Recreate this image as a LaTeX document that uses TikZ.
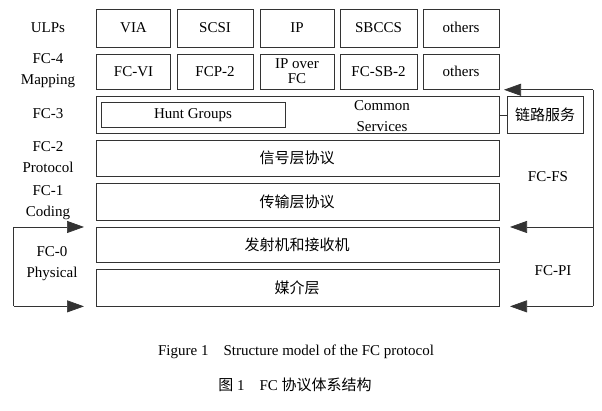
\documentclass[tikz,border=0pt]{standalone}
\usepackage{fontspec}
\setmainfont{Liberation Serif}
\newfontfamily\cjk{Noto Sans CJK SC}
\usetikzlibrary{arrows.meta}
\begin{document}
\begin{tikzpicture}[x=1pt,y=-0.863pt,
  bx/.style={draw=black!80,line width=0.7pt,inner sep=0pt},
  lab/.style={font=\fontsize{15}{16}\selectfont,align=center,inner sep=0pt},
  arr/.style={draw=black!80,line width=0.7pt,-{Triangle[length=17pt,width=12pt]}}]
\useasboundingbox (0,0) rectangle (602,476.2);
% row 1
\foreach \a/\b/\t [count=\i] in {96.5/170.5/VIA,177/253/SCSI,260/334/IP,340/417/SBCCS,423/499/others}{
  \draw[bx] (\a,11) rectangle (\b,55); \node[lab] (u\i) at ({(\a+\b)/2},32) {\t};}
\foreach \a/\b/\t [count=\i] in {96.5/170.5/FC-VI,177/253/FCP-2,260/334/{IP over\\[-1pt]FC},340/417/FC-SB-2,423/499/others}{
  \draw[bx] (\a,62.5) rectangle (\b,104); \node[lab] (m\i) at ({(\a+\b)/2},83) {\t};}
\draw[bx] (96.5,112) rectangle (499,155);
\draw[bx] (101,119) rectangle (285,147);
\node[lab] (hunt) at (193,133) {Hunt Groups};
\node[lab] (cs) at (382,134) {Common\\[5pt]Services};
\draw[bx] (507,112) rectangle (583,155);
\node[lab] (link) at (545,133.5) {\cjk 链路服务};
\draw[draw=black!80,line width=0.7pt] (499,134) -- (507,134);
\draw[bx] (96.5,163) rectangle (499,204); \node[lab] (l2) at (297,183.5) {\cjk 信号层协议};
\draw[bx] (96.5,212) rectangle (499,255); \node[lab] (l1) at (297,233.5) {\cjk 传输层协议};
\draw[bx] (96.5,263) rectangle (499,304); \node[lab] (l0a) at (297,283.5) {\cjk 发射机和接收机};
\draw[bx] (96.5,312) rectangle (499,355); \node[lab] (l0b) at (297,333.5) {\cjk 媒介层};
% left labels
\node[lab] at (48,32) {ULPs};
\node[lab] at (48,82) {FC-4\\[5pt]Mapping};
\node[lab] at (48,132) {FC-3};
\node[lab] at (48,182) {FC-2\\[5pt]Protocol};
\node[lab] at (48,234.5) {FC-1\\[5pt]Coding};
\node[lab] at (52,305.5) {FC-0\\[5pt]Physical};
\node[lab] at (548,205) {FC-FS};
\node[lab] at (553,313) {FC-PI};
% arrows
\coordinate (r1) at (593,104);
\coordinate (r2) at (593,263);
\coordinate (r3) at (593,355);
\coordinate (lt) at (13.5,263);
\coordinate (lb) at (13.5,355);
\draw[draw=black!80,line width=0.7pt] (r1) -- (r3);
\draw[arr] (r1) -- (504,104);
\draw[arr] (r2) -- (510,263);
\draw[arr] (r3) -- (510,355);
\draw[draw=black!80,line width=0.7pt] (lt) -- (lb);
\draw[arr] (lt) -- (84,263);
\draw[arr] (lb) -- (84,355);
% captions
\node[lab,font=\fontsize{15}{16}\selectfont] (cap1) at (296,408) {Figure 1\quad Structure model of the FC protocol};
\node[lab,font=\fontsize{15}{16}\selectfont] (cap2) at (295,446) {{\cjk 图} 1\quad FC {\cjk 协议体系结构}};
\end{tikzpicture}
\end{document}
